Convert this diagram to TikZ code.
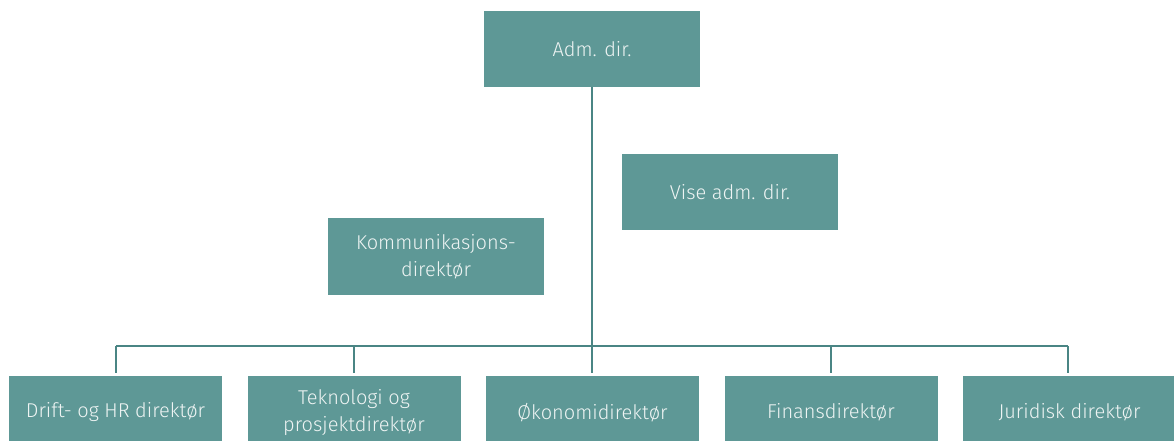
\documentclass[tikz,border=0pt]{standalone}
\usepackage{fontspec}
\setmainfont{Fira Sans Light}
\definecolor{boxteal}{HTML}{5E9896}
\definecolor{lineteal}{HTML}{4A8584}
\definecolor{txt}{HTML}{EEF4F3}
\tikzset{
  orgbox/.style={fill=boxteal, draw=none, text=txt, align=center, inner sep=0pt,
    minimum width=216pt, minimum height=76pt, font=\fontsize{20}{27}\selectfont},
  lowbox/.style={orgbox, minimum width=213pt, minimum height=73pt},
  conn/.style={draw=lineteal, line width=1.1pt}
}
\begin{document}
\begin{tikzpicture}[x=1pt,y=-1pt]
\useasboundingbox (0,0) rectangle (1174,441);
\node[orgbox] (adm) at (592,49) {Adm. dir.};
\node[orgbox, minimum height=76pt] (vise) at (730,192) {Vise adm. dir.};
\node[orgbox, minimum height=77pt] (komm) at (436,256.5) {Kommunikasjons-\\direktør};
\node[lowbox] (b1) at (115.5,412.5) {Drift- og HR direktør};
\node[lowbox] (b2) at (354,412.5) {Teknologi og\\prosjektdirektør};
\node[lowbox] (b3) at (592.5,412.5) {Økonomidirektør};
\node[lowbox] (b4) at (831,412.5) {Finansdirektør};
\node[lowbox] (b5) at (1069.5,412.5) {Juridisk direktør};
\coordinate (barL) at (116,346);
\coordinate (barR) at (1068,346);
\draw[conn] (barL) -- (barR);
\draw[conn, shorten >=3pt] (adm.south) -- (adm.south |- b3.north);
\draw[conn, shorten >=3pt] (barL) -- (barL |- b1.north);
\draw[conn, shorten >=3pt] (b2.north |- barL) -- (b2.north);
\draw[conn, shorten >=3pt] (b4.north |- barL) -- (b4.north);
\draw[conn, shorten >=3pt] (barR) -- (barR |- b5.north);
\end{tikzpicture}
\end{document}
